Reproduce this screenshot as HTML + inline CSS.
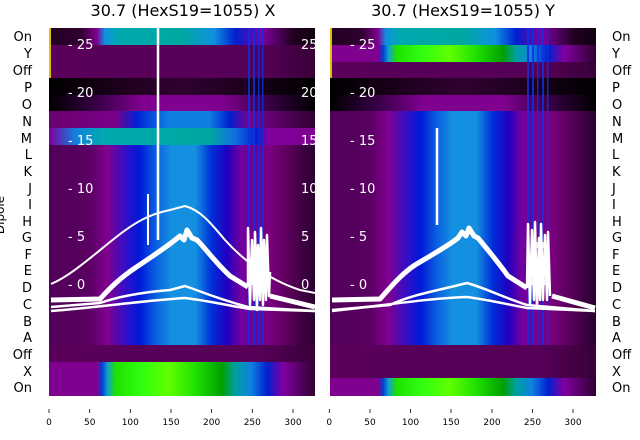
<!DOCTYPE html>
<html><head><meta charset="utf-8">
<style>
html,body{margin:0;padding:0;background:#fff;}
svg{display:block;font-family:"DejaVu Sans","Liberation Sans",sans-serif;}
</style></head>
<body>
<svg width="640" height="440" viewBox="0 0 640 440" xmlns="http://www.w3.org/2000/svg">
<defs>
<linearGradient id="main" x1="0" x2="1" y1="0" y2="0">
<stop offset="0" stop-color="#500058"/><stop offset="0.15" stop-color="#5a0062"/>
<stop offset="0.22" stop-color="#800090"/><stop offset="0.29" stop-color="#3010c8"/>
<stop offset="0.34" stop-color="#0018d8"/><stop offset="0.40" stop-color="#0a5ee0"/>
<stop offset="0.46" stop-color="#1490e0"/><stop offset="0.55" stop-color="#1490e0"/>
<stop offset="0.61" stop-color="#0030d8"/><stop offset="0.67" stop-color="#2000c0"/>
<stop offset="0.72" stop-color="#7000a0"/><stop offset="0.83" stop-color="#7a0080"/>
<stop offset="0.92" stop-color="#500050"/><stop offset="1" stop-color="#2a0030"/>
</linearGradient>
<linearGradient id="teal" x1="0" x2="1">
<stop offset="0" stop-color="#200020"/><stop offset="0.12" stop-color="#300030"/>
<stop offset="0.18" stop-color="#800090"/><stop offset="0.21" stop-color="#1090e0"/>
<stop offset="0.26" stop-color="#00a8b0"/><stop offset="0.5" stop-color="#00a8a0"/>
<stop offset="0.62" stop-color="#1090e0"/><stop offset="0.7" stop-color="#0020d0"/>
<stop offset="0.8" stop-color="#8000a0"/><stop offset="0.92" stop-color="#200020"/>
<stop offset="1" stop-color="#100010"/>
</linearGradient>
<linearGradient id="green" x1="0" x2="1">
<stop offset="0" stop-color="#800090"/><stop offset="0.18" stop-color="#800090"/>
<stop offset="0.2" stop-color="#0040d0"/><stop offset="0.22" stop-color="#10a0d0"/>
<stop offset="0.25" stop-color="#20e000"/><stop offset="0.35" stop-color="#30ff10"/>
<stop offset="0.45" stop-color="#60ff00"/><stop offset="0.55" stop-color="#20e000"/>
<stop offset="0.65" stop-color="#00a000"/><stop offset="0.7" stop-color="#00a0a0"/>
<stop offset="0.76" stop-color="#1080e0"/><stop offset="0.82" stop-color="#0020d0"/>
<stop offset="0.88" stop-color="#8000a0"/><stop offset="1" stop-color="#300030"/>
</linearGradient>
<linearGradient id="blk" x1="0" x2="1">
<stop offset="0" stop-color="#000"/><stop offset="0.3" stop-color="#200020"/>
<stop offset="0.5" stop-color="#300030"/><stop offset="0.7" stop-color="#200020"/>
<stop offset="1" stop-color="#000"/>
</linearGradient>
<linearGradient id="blkp" x1="0" x2="1">
<stop offset="0" stop-color="#000"/><stop offset="0.2" stop-color="#400050"/>
<stop offset="0.35" stop-color="#800090"/><stop offset="0.65" stop-color="#800090"/>
<stop offset="0.8" stop-color="#400050"/><stop offset="1" stop-color="#000"/>
</linearGradient>
<linearGradient id="dp" x1="0" x2="1">
<stop offset="0" stop-color="#5a005a"/><stop offset="0.8" stop-color="#560058"/>
<stop offset="1" stop-color="#380038"/>
</linearGradient>
<linearGradient id="nb" x1="0" x2="1">
<stop offset="0" stop-color="#6a0070"/><stop offset="0.25" stop-color="#7a0088"/>
<stop offset="0.33" stop-color="#0020d8"/><stop offset="0.45" stop-color="#1080e0"/>
<stop offset="0.6" stop-color="#1080e0"/><stop offset="0.68" stop-color="#0020d0"/>
<stop offset="0.75" stop-color="#7a0090"/><stop offset="1" stop-color="#300030"/>
</linearGradient>
<linearGradient id="mt" x1="0" x2="1">
<stop offset="0" stop-color="#8000a0"/><stop offset="0.1" stop-color="#1080e0"/>
<stop offset="0.2" stop-color="#00a8b0"/><stop offset="0.6" stop-color="#00a8a0"/>
<stop offset="0.7" stop-color="#1070e0"/><stop offset="0.78" stop-color="#0020d0"/>
<stop offset="0.82" stop-color="#8000a0"/><stop offset="1" stop-color="#800090"/>
</linearGradient>
</defs>

<!-- LEFT PANEL -->
<g>
<rect x="49" y="28" width="266" height="368" fill="url(#main)"/>
<rect x="49" y="28" width="266" height="17" fill="url(#teal)"/>
<rect x="49" y="45" width="266" height="33" fill="url(#dp)"/>
<rect x="49" y="78" width="266" height="17" fill="url(#blk)"/>
<rect x="49" y="95" width="266" height="16" fill="url(#blkp)"/>
<rect x="49" y="111" width="266" height="17" fill="url(#nb)"/>
<rect x="49" y="128" width="266" height="17" fill="url(#mt)"/>
<rect x="49" y="345" width="266" height="17" fill="url(#dp)"/>
<rect x="49" y="362" width="266" height="34" fill="url(#green)"/>
<g fill="#1030e0" opacity="0.85">
<rect x="248" y="28" width="2" height="317"/><rect x="253" y="28" width="2" height="317"/>
<rect x="258" y="28" width="1.5" height="317"/><rect x="262" y="28" width="1.5" height="317"/>
</g>
<rect x="49" y="28" width="2" height="50" fill="#e0c000"/>
<g fill="#fff" font-size="13">
<text x="68" y="49">- 25</text><text x="68" y="97">- 20</text><text x="68" y="145">- 15</text>
<text x="68" y="193">- 10</text><text x="68" y="241">- 5</text><text x="68" y="289">- 0</text>
<text x="301" y="49">25</text><text x="301" y="97">20</text><text x="301" y="145">15</text>
<text x="301" y="193">10</text><text x="301" y="241">5</text><text x="301" y="289">0</text>
</g>
<g fill="none" stroke="#fff" stroke-linejoin="round">
<path d="M51,284 C70,276 90,258 115,238 C135,222 150,214 170,210 L185,206 C200,210 210,222 225,240 C245,262 270,280 300,290 L315,293" stroke-width="2"/>
<path d="M51,300 L100,299 C110,288 120,278 135,268 C150,258 165,248 175,240 L180,236 L184,240 L187,230 L192,238 L197,240 C205,248 215,262 230,276 L248,287 M270,296 L315,307" stroke-width="5"/>
<path d="M51,307 L100,303 C120,296 145,292 170,290 L185,286 C200,291 215,298 248,307 L315,311" stroke-width="2.5"/>
<path d="M51,311 C100,307 150,300 185,298 C210,301 230,306 250,309 L315,311" stroke-width="2.5"/>
<path d="M158,28 L158,240" stroke-width="2.5"/>
<path d="M148,194 L148,245" stroke-width="2"/>
<path d="M248,287 L248,228 L250,305 L252,240 L254,300 L255,232 L257,310 L258,245 L260,300 L261,228 L263,305 L264,240 L266,300 L267,235 L269,296 L270,272" stroke-width="2.5"/>
<path d="M250,262 L266,262 M250,282 L266,282 M251,250 L262,250" stroke-width="6" opacity="0.8"/>
</g>
</g>

<!-- RIGHT PANEL -->
<g>
<rect x="330" y="28" width="266" height="368" fill="url(#main)"/>
<rect x="330" y="28" width="266" height="17" fill="url(#teal)"/>
<rect x="330" y="45" width="266" height="17" fill="url(#green)"/>
<rect x="330" y="62" width="266" height="16" fill="url(#dp)"/>
<rect x="330" y="78" width="266" height="17" fill="url(#blk)"/>
<rect x="330" y="95" width="266" height="16" fill="url(#blkp)"/>
<rect x="330" y="345" width="266" height="33" fill="url(#dp)"/>
<rect x="330" y="378" width="266" height="18" fill="url(#green)"/>
<g fill="#1030e0" opacity="0.85">
<rect x="527" y="28" width="2" height="317"/><rect x="532" y="28" width="2" height="317"/>
<rect x="537" y="28" width="1.5" height="317"/><rect x="542" y="28" width="2" height="317"/>
<rect x="547" y="28" width="1.5" height="317"/>
</g>
<rect x="330" y="28" width="2" height="50" fill="#e0c000"/>
<g fill="#fff" font-size="13">
<text x="350" y="49">- 25</text><text x="350" y="97">- 20</text><text x="350" y="145">- 15</text>
<text x="350" y="193">- 10</text><text x="350" y="241">- 5</text><text x="350" y="289">- 0</text>
</g>
<g fill="none" stroke="#fff" stroke-linejoin="round">
<path d="M332,300 L380,299 C390,288 400,275 415,265 C430,256 448,246 458,238 L462,232 L466,236 L469,228 L474,236 L478,238 C488,250 498,262 508,276 L527,288 M552,296 L595,308" stroke-width="5"/>
<path d="M332,310 L390,305 C410,295 440,290 467,283 C485,288 505,298 527,305 L595,311" stroke-width="2.5"/>
<path d="M332,311 C380,306 430,298 467,297 C490,300 510,305 527,308 L595,311" stroke-width="2.5"/>
<path d="M437,128 L437,225" stroke-width="2.5"/>
<path d="M527,288 L528,224 L530,305 L532,230 L534,300 L535,222 L537,308 L539,238 L540,300 L541,224 L543,300 L545,235 L547,300 L548,232 L550,296" stroke-width="2.5"/>
<path d="M530,262 L548,262 M530,282 L548,282 M531,245 L546,245" stroke-width="6" opacity="0.8"/>
</g>
</g>
<rect x="315" y="20" width="15" height="380" fill="#fff"/>

<!-- Titles -->
<text x="183" y="16" font-size="16" text-anchor="middle" fill="#000">30.7 (HexS19=1055) X</text>
<text x="463" y="16" font-size="16" text-anchor="middle" fill="#000">30.7 (HexS19=1055) Y</text>

<!-- Row labels -->
<g font-size="13" fill="#000">
<g text-anchor="end">
<text x="32" y="41">On</text><text x="32" y="58">Y</text><text x="32" y="75">Off</text>
<text x="32" y="92">P</text><text x="32" y="109">O</text><text x="32" y="126">N</text>
<text x="32" y="143">M</text><text x="32" y="159">L</text><text x="32" y="176">K</text>
<text x="32" y="193">J</text><text x="32" y="209">I</text><text x="32" y="226">H</text>
<text x="32" y="242">G</text><text x="32" y="259">F</text><text x="32" y="275">E</text>
<text x="32" y="292">D</text><text x="32" y="309">C</text><text x="32" y="326">B</text>
<text x="32" y="342">A</text><text x="32" y="359">Off</text><text x="32" y="376">X</text>
<text x="32" y="392">On</text>
</g>
<g>
<text x="612" y="41">On</text><text x="612" y="58">Y</text><text x="612" y="75">Off</text>
<text x="612" y="92">P</text><text x="612" y="109">O</text><text x="612" y="126">N</text>
<text x="612" y="143">M</text><text x="612" y="159">L</text><text x="612" y="176">K</text>
<text x="612" y="193">J</text><text x="612" y="209">I</text><text x="612" y="226">H</text>
<text x="612" y="242">G</text><text x="612" y="259">F</text><text x="612" y="275">E</text>
<text x="612" y="292">D</text><text x="612" y="309">C</text><text x="612" y="326">B</text>
<text x="612" y="342">A</text><text x="612" y="359">Off</text><text x="612" y="376">X</text>
<text x="612" y="392">On</text>
</g>
<text transform="translate(4,215) rotate(-90)" text-anchor="middle" font-size="12">Dipole</text>
</g>

<!-- X ticks -->
<g stroke="#000" stroke-width="0.8">
<line x1="49" y1="409" x2="49" y2="413"/><line x1="89.7" y1="409" x2="89.7" y2="413"/>
<line x1="130.3" y1="409" x2="130.3" y2="413"/><line x1="171" y1="409" x2="171" y2="413"/>
<line x1="211.6" y1="409" x2="211.6" y2="413"/><line x1="252.3" y1="409" x2="252.3" y2="413"/>
<line x1="293" y1="409" x2="293" y2="413"/>
<line x1="329.3" y1="409" x2="329.3" y2="413"/><line x1="370" y1="409" x2="370" y2="413"/>
<line x1="410.5" y1="409" x2="410.5" y2="413"/><line x1="451" y1="409" x2="451" y2="413"/>
<line x1="492" y1="409" x2="492" y2="413"/><line x1="532.5" y1="409" x2="532.5" y2="413"/>
<line x1="573" y1="409" x2="573" y2="413"/>
</g>
<g font-size="9" fill="#000" text-anchor="middle">
<text x="49" y="425">0</text><text x="89.7" y="425">50</text><text x="130.3" y="425">100</text>
<text x="171" y="425">150</text><text x="211.6" y="425">200</text><text x="252.3" y="425">250</text>
<text x="293" y="425">300</text>
<text x="329.3" y="425">0</text><text x="370" y="425">50</text><text x="410.5" y="425">100</text>
<text x="451" y="425">150</text><text x="492" y="425">200</text><text x="532.5" y="425">250</text>
<text x="573" y="425">300</text>
</g>
</svg>
</body></html>
